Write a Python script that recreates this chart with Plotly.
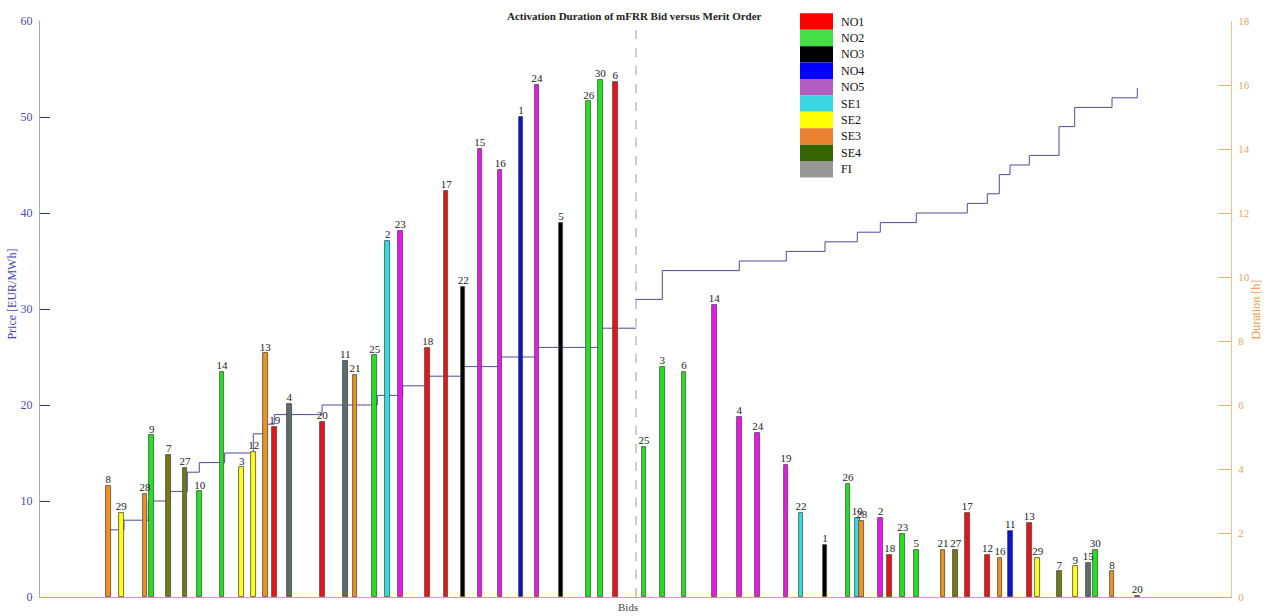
import plotly.graph_objects as go

# ---- data -----------------------------------------------------------------
# merit order price steps (EUR/MWh); x = position along the bid axis
down_step_x = [7.1, 8.4, 10.83, 13.0, 14.73, 15.93, 18.47, 21.33, 22.33, 23.43,
               28.2, 33.73, 36.27, 38.77, 42.3, 46.0, 49.67, 56.03, 59.6]
down_step_price = [7, 8, 10, 11, 13, 14, 15, 17, 18, 19,
                   20, 21, 22, 23, 24, 25, 26, 28, 28]

up_step_x = [59.55, 62.23, 69.93, 74.63, 78.5, 81.73, 84.03, 87.63, 92.73,
             94.73, 95.93, 97.0, 98.93, 101.9, 103.47, 107.2, 109.73]
up_step_price = [31, 34, 35, 36, 37, 38, 39, 40, 41,
                 42, 44, 45, 46, 49, 51, 52, 53]

split_x = 59.6

# activated bids: position, day of month, bidding zone, activation duration [h]
bid_x = [6.83, 8.13, 10.5, 11.17, 12.87, 14.5, 15.97, 18.2, 20.17, 21.37,
         22.53, 23.47, 24.93, 28.23, 30.53, 31.5, 33.47, 34.77, 36.03, 38.77,
         40.62, 42.32, 43.98, 46.02, 48.1, 49.7, 52.1, 54.87, 56.03, 57.53,
         60.4, 62.23, 64.4, 67.43, 69.93, 71.77, 74.6, 76.1, 78.5, 80.8,
         81.73, 82.17, 84.07, 84.97, 86.27, 87.63, 90.3, 91.57, 92.73, 94.75,
         96.0, 97.03, 98.93, 99.77, 101.93, 103.53, 104.83, 105.53, 107.2, 109.73]
bid_day = [8, 29, 28, 9, 7, 27, 10, 14, 3, 12,
           13, 19, 4, 20, 11, 21, 25, 2, 23, 18,
           17, 22, 15, 16, 1, 24, 5, 26, 30, 6,
           25, 3, 6, 14, 4, 24, 19, 22, 1, 26,
           10, 28, 2, 18, 23, 5, 21, 27, 17, 12,
           16, 11, 13, 29, 7, 9, 15, 30, 8, 20]
bid_zone = ["SE3", "SE2", "SE3", "NO2", "SE4", "SE4", "NO2", "NO2", "SE2", "SE2",
            "SE3", "NO1", "FI", "NO1", "FI", "SE3", "NO2", "SE1", "NO5", "NO1",
            "NO1", "NO3", "NO5", "NO5", "NO4", "NO5", "NO3", "NO2", "NO2", "NO1",
            "NO2", "NO2", "NO2", "NO5", "NO5", "NO5", "NO5", "SE1", "NO3", "NO2",
            "SE1", "SE3", "NO5", "NO1", "NO2", "NO2", "SE3", "SE4", "NO1", "NO1",
            "SE3", "NO4", "NO1", "SE2", "SE4", "SE2", "FI", "NO2", "SE3", "FI"]
bid_duration = [3.47, 2.62, 3.22, 5.05, 4.45, 4.04, 3.30, 7.03, 4.05, 4.54,
                7.61, 5.31, 6.04, 5.47, 7.37, 6.94, 7.55, 11.12, 11.44, 7.78,
                12.68, 9.69, 14.01, 13.34, 15.01, 16.0, 11.69, 15.49, 16.17, 16.09,
                4.70, 7.20, 7.04, 9.12, 5.62, 5.13, 4.13, 2.63, 1.64, 3.54,
                2.47, 2.38, 2.47, 1.31, 1.97, 1.47, 1.47, 1.47, 2.63, 1.31,
                1.22, 2.06, 2.31, 1.22, 0.80, 0.96, 1.07, 1.47, 0.80, 0.03]

zones = ["NO1", "NO2", "NO3", "NO4", "NO5", "SE1", "SE2", "SE3", "SE4", "FI"]
bar_colors = {"NO1": "#e81418", "NO2": "#1fe51f", "NO3": "#000000", "NO4": "#0c12d2",
              "NO5": "#ee14ee", "SE1": "#2fdfe6", "SE2": "#ffff14", "SE3": "#f0921a",
              "SE4": "#6f7a12", "FI": "#5c6c6c"}
legend_colors = {"NO1": "#ff0000", "NO2": "#46de46", "NO3": "#000000", "NO4": "#0000ff",
                 "NO5": "#b05cc0", "SE1": "#3ad8e2", "SE2": "#ffff00", "SE3": "#ea8232",
                 "SE4": "#336600", "FI": "#979797"}

FONT = "Times New Roman, Liberation Serif, serif"
X_MAX = 119.1

fig = go.Figure()

# duration bars (right axis)
fig.add_trace(go.Bar(
    x=bid_x, y=bid_duration, width=0.45,
    marker=dict(color=[bar_colors[z] for z in bid_zone],
                line=dict(color="#4a4a4a", width=0.8)),
    yaxis="y2", showlegend=False, hoverinfo="skip",
))

# day labels above the bars
fig.add_trace(go.Scatter(
    x=bid_x, y=bid_duration, mode="text",
    text=[str(d) for d in bid_day], textposition="top center",
    textfont=dict(family=FONT, size=11, color="#222222"),
    yaxis="y2", showlegend=False, hoverinfo="skip", cliponaxis=False,
))

# merit order price curves (left axis)
for xs, ps in ((down_step_x, down_step_price), (up_step_x, up_step_price)):
    fig.add_trace(go.Scatter(
        x=xs, y=ps, mode="lines", line=dict(color="#4b4b9c", width=1, shape="hv"),
        showlegend=False, hoverinfo="skip",
    ))

# split between down- and up-regulation
fig.add_shape(type="line", xref="x", yref="paper", x0=split_x, x1=split_x, y0=0, y1=1,
              line=dict(color="#9a9a9a", width=1, dash="dash"))

# hand-drawn zone legend
PLOT_L, PLOT_R, PLOT_T, PLOT_B = 40, 1231, 21, 600
def px_x(p):
    return (p - PLOT_L) / (PLOT_R - PLOT_L)
def px_y(p):
    return (PLOT_B - p) / (PLOT_B - PLOT_T)

row_h = 16.5
top = 13.3
for i, z in enumerate(zones):
    y0 = top + i * row_h
    fig.add_shape(type="rect", xref="paper", yref="paper",
                  x0=px_x(800), x1=px_x(833), y0=px_y(y0 + row_h), y1=px_y(y0),
                  fillcolor=legend_colors[z], line=dict(width=0))
    fig.add_annotation(xref="paper", yref="paper", x=px_x(839), y=px_y(y0 + row_h / 2),
                       text=z, showarrow=False, xanchor="left", yanchor="middle",
                       font=dict(family=FONT, size=12, color="#111111"))

# titles
fig.add_annotation(xref="paper", yref="paper", x=px_x(634), y=px_y(16),
                   text="<b>Activation Duration of mFRR Bid versus Merit Order</b>",
                   showarrow=False, xanchor="center", yanchor="middle",
                   font=dict(family=FONT, size=11, color="#222222"))
fig.add_annotation(xref="paper", yref="paper", x=px_x(628), y=px_y(610),
                   text="Bids", showarrow=False, xanchor="center", yanchor="middle",
                   font=dict(family=FONT, size=11, color="#444444"))
fig.add_annotation(xref="paper", yref="paper", x=px_x(12), y=px_y(296),
                   text="Price [EUR/MWh]", showarrow=False, textangle=-90,
                   xanchor="center", yanchor="middle",
                   font=dict(family=FONT, size=12, color="#4444b4"))
fig.add_annotation(xref="paper", yref="paper", x=px_x(1256), y=px_y(311),
                   text="Duration [h]", showarrow=False, textangle=-90,
                   xanchor="center", yanchor="middle",
                   font=dict(family=FONT, size=12, color="#e89a48"))

fig.update_layout(
    width=1268, height=616,
    margin=dict(l=PLOT_L, r=1268 - PLOT_R, t=PLOT_T, b=616 - PLOT_B),
    paper_bgcolor="white", plot_bgcolor="white",
    bargap=0, barmode="overlay",
    xaxis=dict(range=[0, X_MAX], showgrid=False, zeroline=False,
               showline=True, linecolor="#e8a24a", linewidth=1,
               ticks="", showticklabels=False),
    yaxis=dict(range=[0, 60], tickvals=[0, 10, 20, 30, 40, 50, 60],
               showgrid=False, zeroline=False,
               showline=True, linecolor="#a4a4d6", linewidth=1,
               ticks="inside", ticklen=10, tickcolor="#30309a", tickwidth=1,
               tickfont=dict(family=FONT, size=12, color="#4a4ab4"),
               ticklabelstandoff=4),
    yaxis2=dict(range=[0, 18], tickvals=list(range(0, 19, 2)),
                overlaying="y", side="right", anchor="x",
                showgrid=False, zeroline=False,
                showline=True, linecolor="#ecc48a", linewidth=1,
                ticks="inside", ticklen=12, tickcolor="#e8b466", tickwidth=1,
                tickfont=dict(family=FONT, size=11, color="#e8a65a"),
                ticklabelstandoff=4),
)

fig.write_html("out.html")
